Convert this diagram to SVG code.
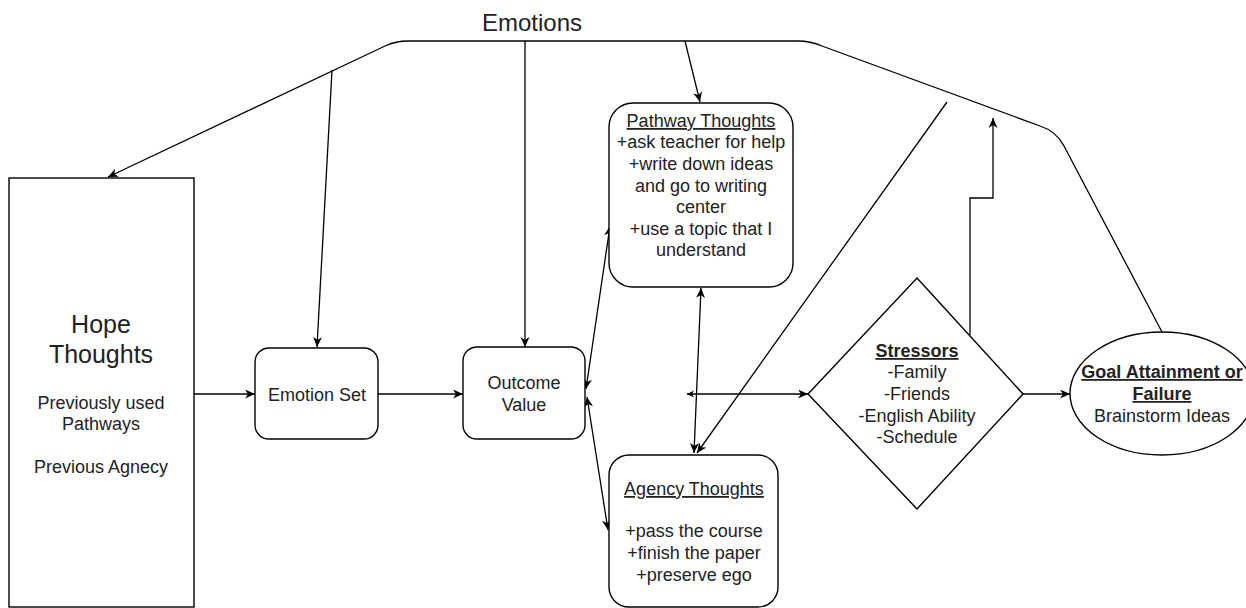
<svg xmlns="http://www.w3.org/2000/svg" width="1246" height="608" viewBox="0 0 1246 608">
<style>
  text { font-family: "Liberation Sans", Arial, sans-serif; fill: #222; text-anchor: middle; font-size: 18px; }
  .big { font-size: 25px; }
  .title { font-size: 24px; }
  .u { text-decoration: underline; }
  .b { font-weight: bold; }
  .shape { fill: #fff; stroke: #000; stroke-width: 1.4; }
  .edge { fill: none; stroke: #000; stroke-width: 1.3; }
</style>
<defs>
  <marker id="arr" markerUnits="userSpaceOnUse" markerWidth="12" markerHeight="10" refX="10" refY="4.5" orient="auto-start-reverse">
    <path d="M0,0 L10,4.5 L0,9 L3,4.5 z" fill="#000"/>
  </marker>
  <marker id="arrs" markerUnits="userSpaceOnUse" markerWidth="9" markerHeight="8" refX="7" refY="3.5" orient="auto-start-reverse">
    <path d="M0,0 L7,3.5 L0,7 L2,3.5 z" fill="#000"/>
  </marker>
</defs>
<rect width="1246" height="608" fill="#fff"/>

<text class="title" x="532" y="31">Emotions</text>

<g id="connectors">
  <path class="edge" d="M1162,332 L1064,146 Q1056,131 1040,126 L822,46 Q810,41 798,41 L408,41 Q396,41 385,46 L108,177" marker-end="url(#arr)"/>
  <path class="edge" d="M332,70 L317,347" marker-end="url(#arr)"/>
  <path class="edge" d="M525,41 L525,347" marker-end="url(#arr)"/>
  <path class="edge" d="M685,41 L700,102" marker-end="url(#arr)"/>
  <path class="edge" d="M194,394 L255,394" marker-end="url(#arr)"/>
  <path class="edge" d="M378,394 L463,394" marker-end="url(#arr)"/>
  <path class="edge" d="M610,226 L586,389" marker-start="url(#arr)" marker-end="url(#arr)"/>
  <path class="edge" d="M587,397 L608,530" marker-start="url(#arr)" marker-end="url(#arr)"/>
  <path class="edge" d="M701,288 L694,453" marker-start="url(#arr)" marker-end="url(#arr)"/>
  <path class="edge" d="M687,394 L808,394" marker-start="url(#arrs)" marker-end="url(#arr)"/>
  <path class="edge" d="M947,102 L697,453" marker-end="url(#arr)"/>
  <path class="edge" d="M970,335 L970,198 L993,198 L993,118" marker-end="url(#arr)"/>
  <path class="edge" d="M1023,394 L1070,394" marker-end="url(#arr)"/>
</g>

<g id="hope">
  <rect class="shape" x="9" y="178" width="185" height="429"/>
  <text class="big" x="101" y="333">Hope</text>
  <text class="big" x="101" y="363">Thoughts</text>
  <text x="101" y="409">Previously used</text>
  <text x="101" y="430">Pathways</text>
  <text x="101" y="473">Previous Agnecy</text>
</g>

<g id="emotionset">
  <rect class="shape" x="255" y="348" width="123" height="91" rx="14" ry="14"/>
  <text x="317" y="401">Emotion Set</text>
</g>

<g id="outcome">
  <rect class="shape" x="463" y="347" width="122" height="92" rx="14" ry="14"/>
  <text x="524" y="389">Outcome</text>
  <text x="524" y="411">Value</text>
</g>

<g id="pathway">
  <rect class="shape" x="609" y="103" width="184" height="184" rx="24" ry="24"/>
  <text class="u" x="701" y="127">Pathway Thoughts</text>
  <text x="701" y="148">+ask teacher for help</text>
  <text x="701" y="170">+write down ideas</text>
  <text x="701" y="192">and go to writing</text>
  <text x="701" y="213">center</text>
  <text x="701" y="235">+use a topic that I</text>
  <text x="701" y="256">understand</text>
</g>

<g id="agency">
  <rect class="shape" x="609" y="455" width="169" height="152" rx="20" ry="20"/>
  <text class="u" x="694" y="495">Agency Thoughts</text>
  <text x="694" y="537">+pass the course</text>
  <text x="694" y="559">+finish the paper</text>
  <text x="694" y="581">+preserve ego</text>
</g>

<g id="stressors">
  <polygon class="shape" points="917,278 1023,394 917,509 808,394"/>
  <text class="u b" x="917" y="357">Stressors</text>
  <text x="917" y="378">-Family</text>
  <text x="917" y="400">-Friends</text>
  <text x="917" y="422">-English Ability</text>
  <text x="917" y="443">-Schedule</text>
</g>

<g id="goal">
  <ellipse class="shape" cx="1162" cy="393.5" rx="92" ry="61.5"/>
  <text class="u b" x="1162" y="378">Goal Attainment or</text>
  <text class="u b" x="1162" y="400">Failure</text>
  <text x="1162" y="422">Brainstorm Ideas</text>
</g>
</svg>
